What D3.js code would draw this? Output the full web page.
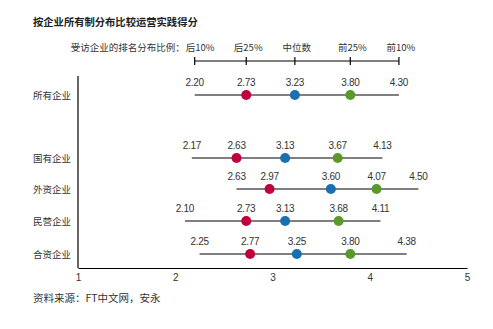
<!DOCTYPE html>
<html><head><meta charset="utf-8">
<script src="https://cdn.jsdelivr.net/npm/d3@7"></script>
<style>body{margin:0;background:#fff;}svg{display:block;font-family:"Noto Sans CJK SC","Liberation Sans",sans-serif;}</style>
</head><body><svg id="c" width="493" height="329"></svg>
<script>
const categories = ["所有企业","国有企业","外资企业","民营企业","合资企业"];
const p10 = [2.20,2.17,2.63,2.10,2.25];
const p25 = [2.73,2.63,2.97,2.73,2.77];
const median = [3.23,3.13,3.60,3.13,3.25];
const p75 = [3.80,3.67,4.07,3.68,3.80];
const p90 = [4.30,4.13,4.50,4.11,4.38];
const legendLabels = ["后10%","后25%","中位数","前25%","前10%"];
const xTicks = [1,2,3,4,5];
const title = "按企业所有制分布比较运营实践得分";
const source = "资料来源：FT中文网，安永";
const legendPrefix = "受访企业的排名分布比例：";

const svg = d3.select("#c");
const x = d3.scaleLinear().domain([1,5]).range([78,467]);
const yPos = [95,158,189,221,254];
const y = d3.scaleOrdinal().domain(categories).range(yPos);
const colors = {p25:"#c0003c", median:"#1a6fb0", p75:"#5a9a2a"};
const txt = "#333";

svg.append("text").attr("x",33).attr("y",26).attr("font-size",10.3).attr("font-weight","bold").attr("fill","#222").text(title);

// legend
const lvals = [p10[0],p25[0],median[0],p75[0],p90[0]];
const ly = 61;
svg.append("line").attr("x1",x(lvals[0])).attr("x2",x(lvals[4])).attr("y1",ly).attr("y2",ly).attr("stroke","#000").attr("stroke-width",1.2);
lvals.forEach((v,i)=>{
  svg.append("line").attr("x1",x(v)).attr("x2",x(v)).attr("y1",ly-4).attr("y2",ly+4).attr("stroke","#000").attr("stroke-width",1.2);
  const t = svg.append("text").attr("y",51).attr("font-size",9.5).attr("fill",txt).text(legendLabels[i]);
  if(i===0) t.attr("x",x(v)-9).attr("text-anchor","start");
  else t.attr("x",x(v)+2).attr("text-anchor","middle");
});
svg.append("text").attr("x",x(lvals[0])-10).attr("y",51).attr("text-anchor","end").attr("font-size",9.5).attr("fill",txt).text(legendPrefix);

// axes
const xAxis = d3.axisBottom(x).tickValues(xTicks).tickSize(0).tickPadding(6).tickFormat(d3.format("d"));
const gx = svg.append("g").attr("transform","translate(0,268)").call(xAxis);
gx.select(".domain").attr("stroke","#000").attr("stroke-width",1.2);
gx.selectAll("text").attr("font-size",10).attr("fill",txt).attr("font-family","Liberation Sans, sans-serif");
svg.append("line").attr("x1",x(1)).attr("x2",x(1)).attr("y1",76).attr("y2",268).attr("stroke","#000").attr("stroke-width",1.2);

categories.forEach((c,i)=>{
  const yy = y(c);
  svg.append("text").attr("x",71).attr("y",yy+4).attr("text-anchor","end").attr("font-size",9.5).attr("fill",txt).text(c);
  svg.append("line").attr("x1",x(p10[i])).attr("x2",x(p90[i])).attr("y1",yy).attr("y2",yy).attr("stroke","#000").attr("stroke-width",1.2);
  [["p25",p25[i]],["median",median[i]],["p75",p75[i]]].forEach(([k,v])=>{
    svg.append("circle").attr("cx",x(v)).attr("cy",yy).attr("r",5).attr("fill",colors[k]);
  });
  [p10[i],p25[i],median[i],p75[i],p90[i]].forEach(v=>{
    svg.append("text").attr("x",x(v)).attr("y",yy-9).attr("text-anchor","middle").attr("font-size",10).attr("fill",txt)
      .attr("font-family","Liberation Sans, sans-serif").attr("letter-spacing","-0.3").text(v.toFixed(2));
  });
});

svg.append("text").attr("x",33).attr("y",302).attr("font-size",10.5).attr("fill",txt).text(source);
</script></body></html>
